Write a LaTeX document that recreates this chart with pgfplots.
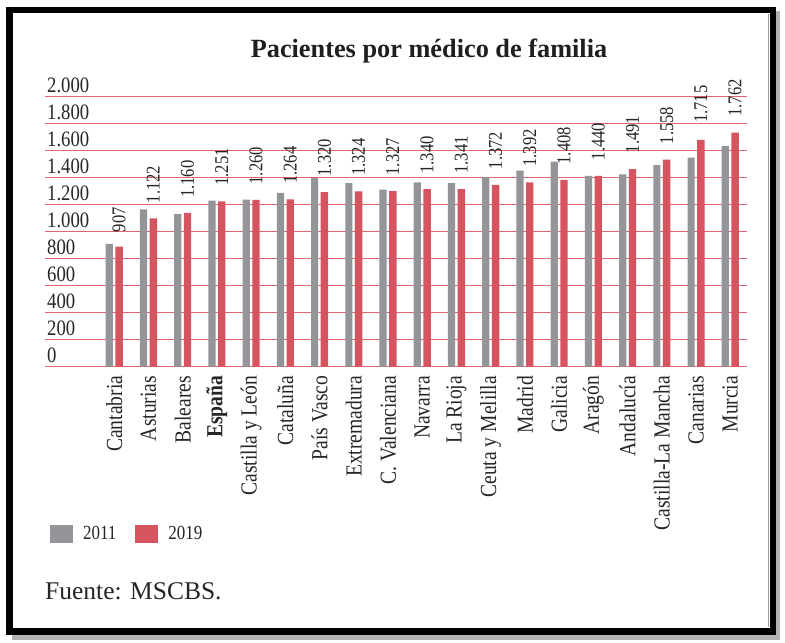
\documentclass[border=0pt]{standalone}
\usepackage{pgfplots}
\usepackage{pgfplotstable}
\pgfplotsset{compat=1.18}
\usepackage{fontspec}
\setmainfont{Liberation Serif}
\newfontfamily\chartfont{Liberation Serif}[FakeStretch=0.85]
\definecolor{bargrey}{RGB}{147,149,153}
\definecolor{barred}{RGB}{214,84,96}
\definecolor{gridred}{RGB}{226,100,112}

\pgfplotstableread{
x y
0 909
1 1166
2 1131
3 1230
4 1237
5 1287
6 1396
7 1359
8 1311
9 1366
10 1359
11 1407
12 1452
13 1519
14 1413
15 1425
16 1494
17 1548
18 1633
}\dataA

\pgfplotstableread{
x y
0 889
1 1099
2 1139
3 1225
4 1235
5 1240
6 1294
7 1299
8 1301
9 1316
10 1316
11 1346
12 1366
13 1383
14 1413
15 1464
16 1533
17 1681
18 1733
}\dataB

\pgfplotstableread{
x y lab
0 907 907
1 1122 1.122
2 1160 1.160
3 1251 1.251
4 1260 1.260
5 1264 1.264
6 1320 1.320
7 1324 1.324
8 1327 1.327
9 1340 1.340
10 1341 1.341
11 1372 1.372
12 1392 1.392
13 1408 1.408
14 1440 1.440
15 1491 1.491
16 1558 1.558
17 1715 1.715
18 1762 1.762
}\labels

\begin{document}
\begin{tikzpicture}[x=1pt,y=1pt]
\useasboundingbox (0,0) rectangle (785,643);
\fill[white] (0,0) rectangle (785,643);
% shadow
\fill[black!30] (776,3) rectangle (780,632);
\fill[black!30] (12,3) rectangle (780,8);
% frame
\draw[line width=6.5pt, black] (9.25,11.25) rectangle (772.75,632.75);
\draw[black!40, line width=0.8pt] (768.5,15.5) -- (768.5,628.5);

\node[anchor=base, font=\bfseries\fontsize{26.3}{27}\selectfont, text=black!88, inner sep=0pt] at (429,585) {Pacientes por médico de familia};

\node[anchor=base west, font=\fontsize{25.5}{26}\selectfont, text=black!85, inner sep=0pt] at (45,43) {Fuente: MSCBS.};

\begin{axis}[
  at={(45pt,276.3pt)}, anchor=south west,
  scale only axis, width=702pt, height=270pt,
  xmin=-2.022, xmax=18.49, ymin=0, ymax=2000,
  ytick={0,200,...,2000},
  yticklabels={0,200,400,600,800,1.000,1.200,1.400,1.600,1.800,2.000},
  xtick={0,...,18},
  xticklabels={Cantabria,Asturias,Baleares,\textbf{España},Castilla y León,Cataluña,País Vasco,Extremadura,C. Valenciana,Navarra,La Rioja,Ceuta y Melilla,Madrid,Galicia,Aragón,Andalucía,Castilla-La Mancha,Canarias,Murcia},
  axis line style={draw=none},
  major tick length=0pt,
  ymajorgrids,
  major grid style={gridred, line width=0.9pt},
  clip=false,
  xticklabel style={rotate=90, anchor=east, inner sep=0pt, font=\chartfont\fontsize{23}{23}\selectfont, text=black!85},
  xticklabel shift=9pt,
  yticklabel style={anchor=base west, inner sep=0pt, xshift=2pt, yshift=4pt, font=\chartfont\fontsize{22}{22}\selectfont, text=black!85},
  legend style={draw=none, fill=none, at={(0.007,-0.6196)}, anchor=west,
    inner sep=0pt, font=\chartfont\fontsize{20}{20}\selectfont, text=black!85,
    nodes={inner sep=0pt},
    /tikz/every odd column/.append style={column sep=10pt},
    /tikz/every even column/.append style={column sep=19pt}},
  legend columns=2,
  legend cell align=left,
]
\addplot[ybar, bar width=7.2pt, bar shift=-4.9pt, fill=bargrey, draw=none,
  legend image code/.code={\fill[bargrey] (0pt,-9pt) rectangle (23pt,9pt);}]
  table[x=x,y=y] {\dataA};
\addlegendentry{2011}
\addplot[ybar, bar width=7.4pt, bar shift=4.9pt, fill=barred, draw=none,
  legend image code/.code={\fill[barred] (0pt,-9pt) rectangle (23pt,9pt);}]
  table[x=x,y=y] {\dataB};
\addlegendentry{2019}
\addplot[draw=none, mark=none, forget plot, nodes near coords, point meta=explicit symbolic,
  nodes near coords style={font=\chartfont\fontsize{19.5}{20}\selectfont, text=black!85, inner sep=0pt, xshift=4.9pt, yshift=12pt, rotate=90, anchor=west}]
  table[x=x,y=y,meta=lab] {\labels};
\end{axis}
\end{tikzpicture}
\end{document}
